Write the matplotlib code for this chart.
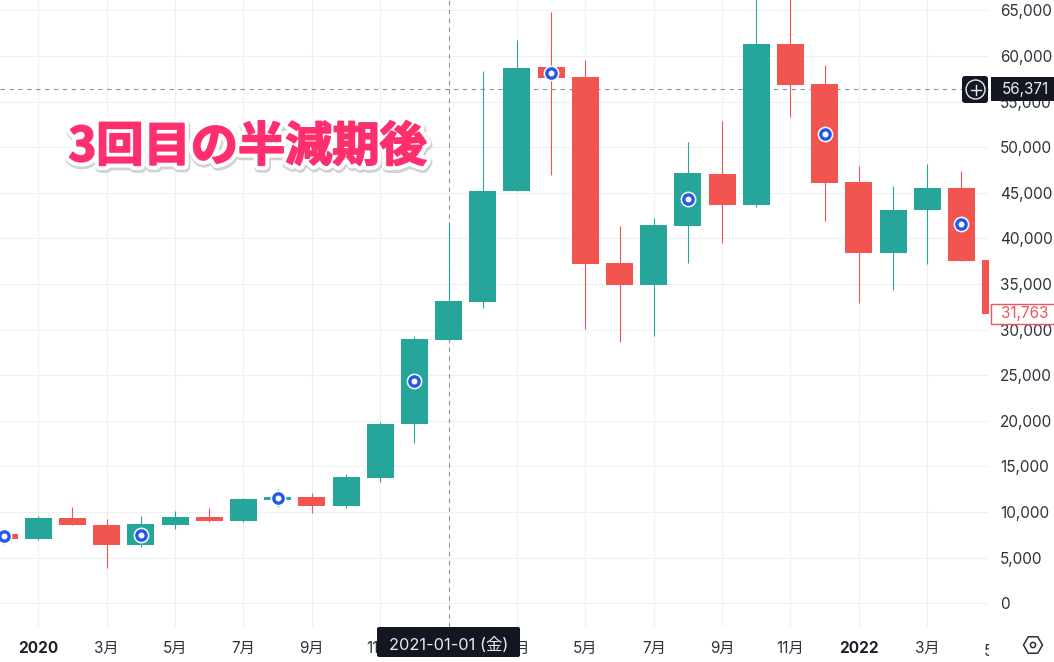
import matplotlib
matplotlib.use("Agg")
import matplotlib.pyplot as plt
import matplotlib.patheffects as pe
from matplotlib.patches import Rectangle, FancyBboxPatch, RegularPolygon, Circle
from matplotlib.transforms import Bbox

plt.rcParams['font.family'] = ['Inter', 'Noto Sans CJK JP', 'DejaVu Sans']

# ローソク足 (月足) 2019-12 -> 2022-05, idx 0 = 2020-01
months = list(range(-1, 29))
opens = [7600, 7050, 9350, 8600, 6400, 8600, 9450, 9000, 11350, 11650, 10670, 13760,
         19700, 28900, 33050, 45200, 58800, 57700, 37300, 34900, 41400, 47100, 43680,
         61330, 56930, 46200, 38400, 43100, 45500, 37600]
closes = [7050, 9350, 8550, 6400, 8700, 9450, 9000, 11430, 11650, 10670, 13850, 19700,
          29000, 33150, 45200, 58700, 57600, 37200, 34900, 41480, 47200, 43680, 61330,
          56830, 46080, 38400, 43100, 45500, 37500, 31763]
highs = [7600, 9570, 10560, 9240, 9570, 10120, 10450, 11550, 12530, 12100, 14180, 19880,
         29300, 41800, 58400, 61780, 64850, 59600, 41400, 42250, 50560, 52900, 66900,
         69000, 59000, 47900, 45800, 48200, 47400, 37600]
lows = [6540, 6970, 8550, 3870, 6200, 8150, 8900, 8950, 10560, 9900, 10450, 13300,
        17580, 28900, 32400, 45200, 46970, 30080, 28650, 29300, 37300, 39500, 43450,
        53320, 41900, 32900, 34300, 37200, 37500, 31000]

# 青い丸印
marker_months = [-1, 3, 7, 11, 15, 19, 23, 27]
marker_prices = [7350, 7500, 11500, 24400, 58200, 44300, 51500, 41600]

tick_months = [0, 2, 4, 6, 8, 10, 12, 14, 16, 18, 20, 22, 24, 26]
tick_labels = ['2020', '3月', '5月', '7月', '9月', '11月', '2021', '3月', '5月', '7月', '9月', '11月', '2022', '3月']
price_ticks = list(range(0, 70000, 5000))

cross_month = 12
cross_price = 56371
last_price = 31763

GREEN = '#26a69a'
RED = '#f2544f'
GRID = '#eff0f3'
DARK = '#131722'
TEXT = '#2f323b'
FS = 11

fig = plt.figure(figsize=(10.54, 6.62), dpi=100)
ax = fig.add_axes([0, 35 / 662, 989 / 1054, 627 / 662])

# 38.5px = idx 0, 34.19px / 月
ax.set_xlim(-38.3 / 34.19, (989 - 38.3) / 34.19)
ax.set_ylim(-2600, 66150)

for m, o, c, h, l in zip(months, opens, closes, highs, lows):
    col = GREEN if c >= o else RED
    ax.vlines(m, l, h, color=col, lw=0.8, zorder=3)
    ax.bar(m, abs(c - o), bottom=min(o, c), width=0.79, color=col, zorder=3, linewidth=0)

ax.scatter(marker_months, marker_prices, s=130, color='white', linewidth=0, zorder=4)
ax.scatter(marker_months, marker_prices, s=45, facecolor='white', edgecolor='#2458e8', linewidth=2.4, zorder=5)

ax.set_xticks(tick_months)
ax.set_xticklabels(tick_labels)
ax.set_yticks(price_ticks)
ax.set_yticklabels([f'{p:,}' for p in price_ticks])
ax.yaxis.tick_right()
ax.grid(True, color=GRID, lw=0.75)
ax.set_axisbelow(True)
ax.tick_params(axis='y', length=0, pad=8, labelsize=FS, labelcolor=TEXT)
ax.tick_params(axis='x', length=0, pad=10, labelsize=FS, labelcolor=TEXT)
for lab in ax.get_xticklabels():
    if lab.get_text() in ('2020', '2022'):
        lab.set_fontweight('bold')
        lab.set_color('#1c1f27')
for s in ax.spines.values():
    s.set_visible(False)

# 右端で切れる 5月
t5 = ax.text(28, -0.0275, '5月', transform=ax.get_xaxis_transform(), ha='center', va='top',
             fontsize=FS, color=TEXT)
t5.set_clip_path(None)
t5.set_clip_box(Bbox([[0, 0], [989, 662]]))
t5.set_clip_on(True)

# クロスヘア
ax.axvline(cross_month, color='#8f929b', lw=0.8, dashes=(4, 4), zorder=2.8)
ax.axhline(cross_price, color='#8f929b', lw=0.8, dashes=(4, 4), zorder=2.8)

# タイトル
ax.text(0.2505, 0.7655, '3回目の半減期後', transform=ax.transAxes, ha='center', va='center',
        fontsize=34, fontweight='bold', family='Noto Sans CJK JP', color='#fe2f6c', zorder=6,
        path_effects=[pe.withStroke(linewidth=8, foreground='#d2d2d2', offset=(0.7, -1.5)),
                      pe.withStroke(linewidth=7, foreground='white'),
                      pe.withStroke(linewidth=1.3, foreground='#fe2f6c')])

# 価格ラベル
trans = ax.get_yaxis_transform()
ax.add_patch(Rectangle((1.002, cross_price - 1350), 0.0667, 2700, transform=trans, color=DARK,
                       clip_on=False, zorder=7, linewidth=0))
ax.text(1.0125, cross_price, f'{cross_price:,}', transform=trans, color='#e8e9ec', fontsize=FS,
        va='center', ha='left', zorder=8, clip_on=False)
ax.add_patch(Rectangle((1.002, last_price - 1100), 0.0667, 2200, transform=trans, facecolor='white',
                       edgecolor='#f2545f', lw=1, clip_on=False, zorder=7))
ax.text(1.0125, last_price, f'{last_price:,}', transform=trans, color='#f2545f', fontsize=FS,
        va='center', ha='left', zorder=8, clip_on=False)

# ツールチップとアイコンはピクセル座標で
ui = fig.add_axes([0, 0, 1, 1], facecolor='none')
ui.set_xlim(0, 1054)
ui.set_ylim(662, 0)
ui.axis('off')
ui.add_patch(FancyBboxPatch((962, 76), 26, 27, boxstyle='round,pad=0,rounding_size=3', color=DARK, linewidth=0))
ui.add_patch(Circle((975.5, 89.5), 9.5, facecolor='none', edgecolor='#e8e9ec', lw=1))
ui.plot([970.5, 980.5], [89.5, 89.5], color='#e8e9ec', lw=1)
ui.plot([975.5, 975.5], [84.5, 94.5], color='#e8e9ec', lw=1)
ui.add_patch(FancyBboxPatch((377, 627), 143, 30, boxstyle='round,pad=0,rounding_size=2', color=DARK, linewidth=0))
ui.text(448.5, 645, '2021-01-01 (金)', color='#e8e9ec', fontsize=11.8, ha='center', va='center')
ui.add_patch(RegularPolygon((1033, 645), 6, radius=9.5, orientation=0.5236, facecolor='none', edgecolor='#2a2e39', lw=1.1))
ui.add_patch(Circle((1033, 645), 2.6, facecolor='none', edgecolor='#2a2e39', lw=1.1))

fig.savefig('out.png', dpi=100)
